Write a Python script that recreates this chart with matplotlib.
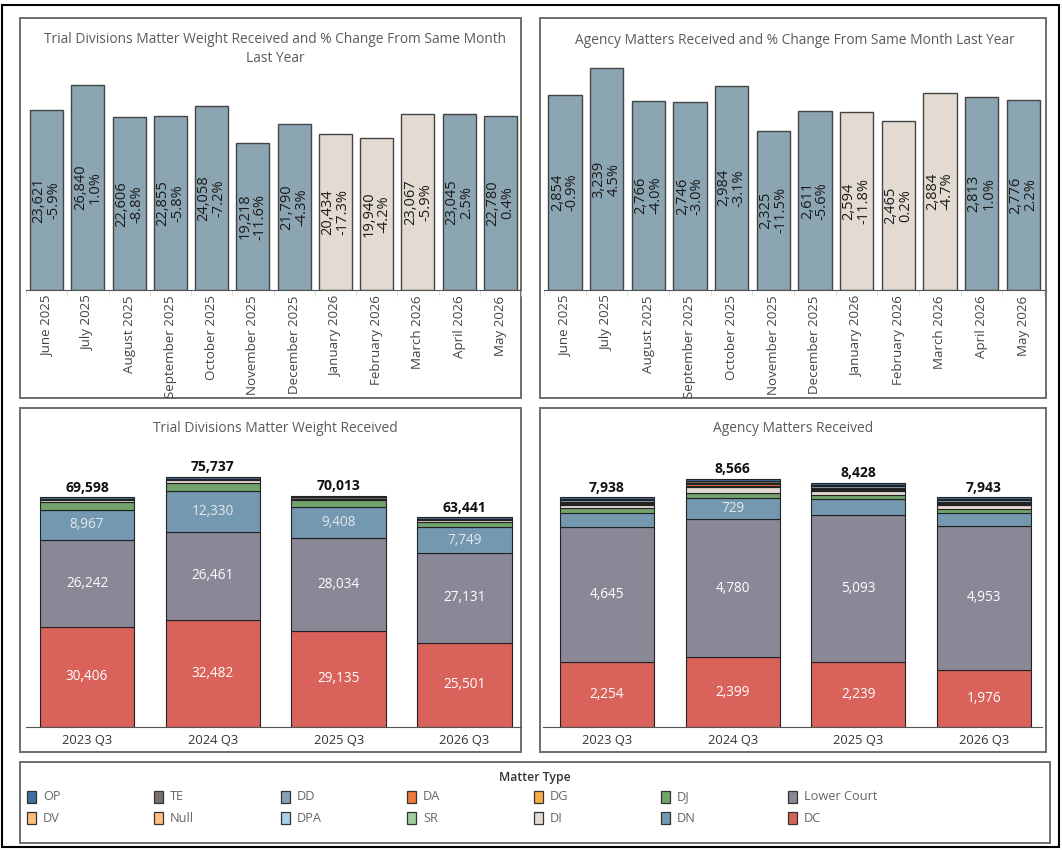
import numpy as np
import matplotlib
matplotlib.use('Agg')
from matplotlib import pyplot as plt
from matplotlib.patches import Rectangle

plt.rcParams['font.family'] = ['Open Sans', 'DejaVu Sans']

# monthly data (top charts)
months = ['June 2025', 'July 2025', 'August 2025', 'September 2025', 'October 2025',
          'November 2025', 'December 2025', 'January 2026', 'February 2026',
          'March 2026', 'April 2026', 'May 2026']
trial_weight = [23621, 26840, 22606, 22855, 24058, 19218, 21790, 20434, 19940, 23067, 23045, 22780]
trial_pct = [-5.9, 1.0, -8.8, -5.8, -7.2, -11.6, -4.3, -17.3, -4.2, -5.9, 2.5, 0.4]
agency_count = [2854, 3239, 2766, 2746, 2984, 2325, 2611, 2594, 2465, 2884, 2813, 2776]
agency_pct = [-0.9, 4.5, -4.0, -3.0, -3.1, -11.5, -5.6, -11.8, 0.2, -4.7, 1.0, 2.2]
highlight_months = ['January 2026', 'February 2026', 'March 2026']

# quarterly stacked data (bottom charts), stacked bottom -> top
quarters = ['2023 Q3', '2024 Q3', '2025 Q3', '2026 Q3']
stack_order = ['DC', 'Lower Court', 'DN', 'DJ', 'DI', 'SR', 'DG', 'DA', 'DD', 'TE', 'OP']

trial_dc = [30406, 32482, 29135, 25501]
trial_lower = [26242, 26461, 28034, 27131]
trial_dn = [8967, 12330, 9408, 7749]
trial_dj = [2600, 2700, 2000, 1800]
trial_di = [350, 700, 450, 360]
trial_sr = [0, 0, 0, 0]
trial_dg = [0, 0, 0, 0]
trial_da = [0, 0, 0, 0]
trial_dd = [0, 0, 0, 0]
trial_te = [450, 500, 450, 400]
trial_op = [583, 564, 536, 500]

agency_dc = [2254, 2399, 2239, 1976]
agency_lower = [4645, 4780, 5093, 4953]
agency_dn = [480, 729, 520, 450]
agency_dj = [170, 180, 170, 160]
agency_di = [110, 200, 110, 120]
agency_sr = [40, 40, 40, 50]
agency_dg = [30, 0, 40, 30]
agency_da = [40, 40, 40, 40]
agency_dd = [50, 50, 50, 50]
agency_te = [50, 60, 60, 50]
agency_op = [69, 88, 66, 64]

legend_row1 = ['OP', 'TE', 'DD', 'DA', 'DG', 'DJ', 'Lower Court']
legend_row2 = ['DV', 'Null', 'DPA', 'SR', 'DI', 'DN', 'DC']

type_colors = {
    'OP': '#41709f', 'TE': '#78706b', 'DD': '#8ca1b3', 'DA': '#f07a3c',
    'DG': '#f6ad45', 'DJ': '#72a36c', 'Lower Court': '#8a8797',
    'DV': '#ffbd7e', 'Null': '#ffbd7e', 'DPA': '#a6cfe8', 'SR': '#9ecf9c',
    'DI': '#e3dbd2', 'DN': '#7398b0', 'DC': '#d9625a',
}
BAR_BLUE = '#8ca5b2'
BAR_BEIGE = '#e3dbd2'

W, H = 1062, 850
fig = plt.figure(figsize=(W / 100, H / 100), dpi=100)


def px_axes(x0, y0, x1, y1):
    ax = fig.add_axes([x0 / W, 1 - y1 / H, (x1 - x0) / W, (y1 - y0) / H])
    ax.set_facecolor('none')
    return ax


# background layer in pixel coords: frames, titles, legend
bg = fig.add_axes([0, 0, 1, 1])
bg.set_xlim(0, W)
bg.set_ylim(H, 0)
bg.axis('off')

bg.add_patch(Rectangle((2, 5), 1057, 842, fill=False, ec='black', lw=1.5))
for (x0, y0, x1, y1) in [(20, 18, 521, 398), (540, 18, 1046, 398),
                         (20, 408, 521, 752), (540, 408, 1046, 752),
                         (20, 762, 1050, 843)]:
    bg.add_patch(Rectangle((x0, y0), x1 - x0, y1 - y0, fill=False, ec='#6e6e6e', lw=1.4))

title_kw = dict(ha='center', va='center', fontsize=9.9, color='#5a5a5a')
bg.text(275, 49, 'Trial Divisions Matter Weight Received and % Change From Same Month\nLast Year',
        linespacing=1.45, **title_kw)
bg.text(795, 40, 'Agency Matters Received and % Change From Same Month Last Year', **title_kw)
bg.text(275, 428, 'Trial Divisions Matter Weight Received', **title_kw)
bg.text(793, 428, 'Agency Matters Received', **title_kw)

# legend
bg.text(535, 777, 'Matter Type', ha='center', va='center', fontsize=8.8,
        color='#333333', fontweight='semibold')
col_x = [30, 157, 284, 410, 537, 664, 791]
for row_y, row in [(797, legend_row1), (818, legend_row2)]:
    for cx, name in zip(col_x, row):
        bg.add_patch(Rectangle((cx - 3, row_y - 6), 9, 12, fc=type_colors[name],
                               ec='#333333', lw=0.9))
        bg.text(cx + 13, row_y, name, ha='left', va='center', fontsize=9.2, color='#666666')


def month_panel(ax, values, pct, ymax):
    x = np.arange(len(months))
    colors = [BAR_BEIGE if m in highlight_months else BAR_BLUE for m in months]
    ax.bar(x, values, width=0.8, color=colors, edgecolor='#444444', linewidth=1.0)
    for xi, v, p in zip(x, values, pct):
        ax.text(xi, v / 2, f'{v:,}\n{p:.1f}%', rotation=90, ha='center', va='center',
                fontsize=10.5, color='#1a1a1a', linespacing=1.0)
    ax.set_xlim(-0.5, len(months) - 0.5)
    ax.set_ylim(0, ymax)
    ax.set_xticks(x)
    ax.set_xticklabels(months, rotation=90, fontsize=9.6, color='#444444')
    ax.set_xticks(np.arange(-0.5, len(months), 1), minor=True)
    ax.tick_params(axis='x', which='major', length=0, pad=4)
    ax.tick_params(axis='x', which='minor', length=4, color='#dddddd')
    ax.set_yticks([])
    for s in ['top', 'right', 'left']:
        ax.spines[s].set_visible(False)
    ax.spines['bottom'].set_color('#555555')


def quarter_panel(ax, layers, ymax, xlim):
    x = np.arange(len(quarters))
    bottom = np.zeros(len(quarters))
    for name, vals in zip(stack_order, layers):
        vals = np.array(vals, dtype=float)
        keep = vals > 0
        ax.bar(x[keep], vals[keep], width=0.75, bottom=bottom[keep], color=type_colors[name],
               edgecolor='#222222', linewidth=0.8)
        if name in ('DC', 'Lower Court', 'DN'):
            tc = '#ffffff' if name != 'DN' else '#e4e8ec'
            for xi, b, v in zip(x, bottom, vals):
                if v > 0.06 * ymax:
                    ax.text(xi, b + v / 2, f'{int(v):,}', ha='center', va='center',
                            fontsize=9.8, color=tc)
        bottom += vals
    for xi, t in zip(x, bottom):
        ax.text(xi, t + 0.008 * ymax, f'{int(t):,}', ha='center', va='bottom',
                fontsize=10, fontweight='bold', color='#111111')
    ax.set_xlim(*xlim)
    ax.set_ylim(0, ymax)
    ax.set_xticks(x)
    ax.set_xticklabels(quarters, fontsize=9.3, color='#333333')
    ax.tick_params(axis='x', length=0, pad=5)
    ax.set_yticks([])
    for s in ['top', 'right', 'left']:
        ax.spines[s].set_visible(False)
    ax.spines['bottom'].set_color('#555555')


ax1 = px_axes(26, 70, 521, 290)
month_panel(ax1, trial_weight, trial_pct, 28820)
ax2 = px_axes(544, 60, 1044, 290)
month_panel(ax2, agency_count, agency_pct, 3360)

trial_layers = [trial_dc, trial_lower, trial_dn, trial_dj, trial_di, trial_sr,
                trial_dg, trial_da, trial_dd, trial_te, trial_op]
agency_layers = [agency_dc, agency_lower, agency_dn, agency_dj, agency_di, agency_sr,
                 agency_dg, agency_da, agency_dd, agency_te, agency_op]

ax3 = px_axes(26, 440, 521, 727)
quarter_panel(ax3, trial_layers, 86850, (-0.485, 3.449))
ax4 = px_axes(543, 440, 1042, 727)
quarter_panel(ax4, agency_layers, 9903, (-0.509, 3.461))

fig.savefig('out.png', dpi=100)
